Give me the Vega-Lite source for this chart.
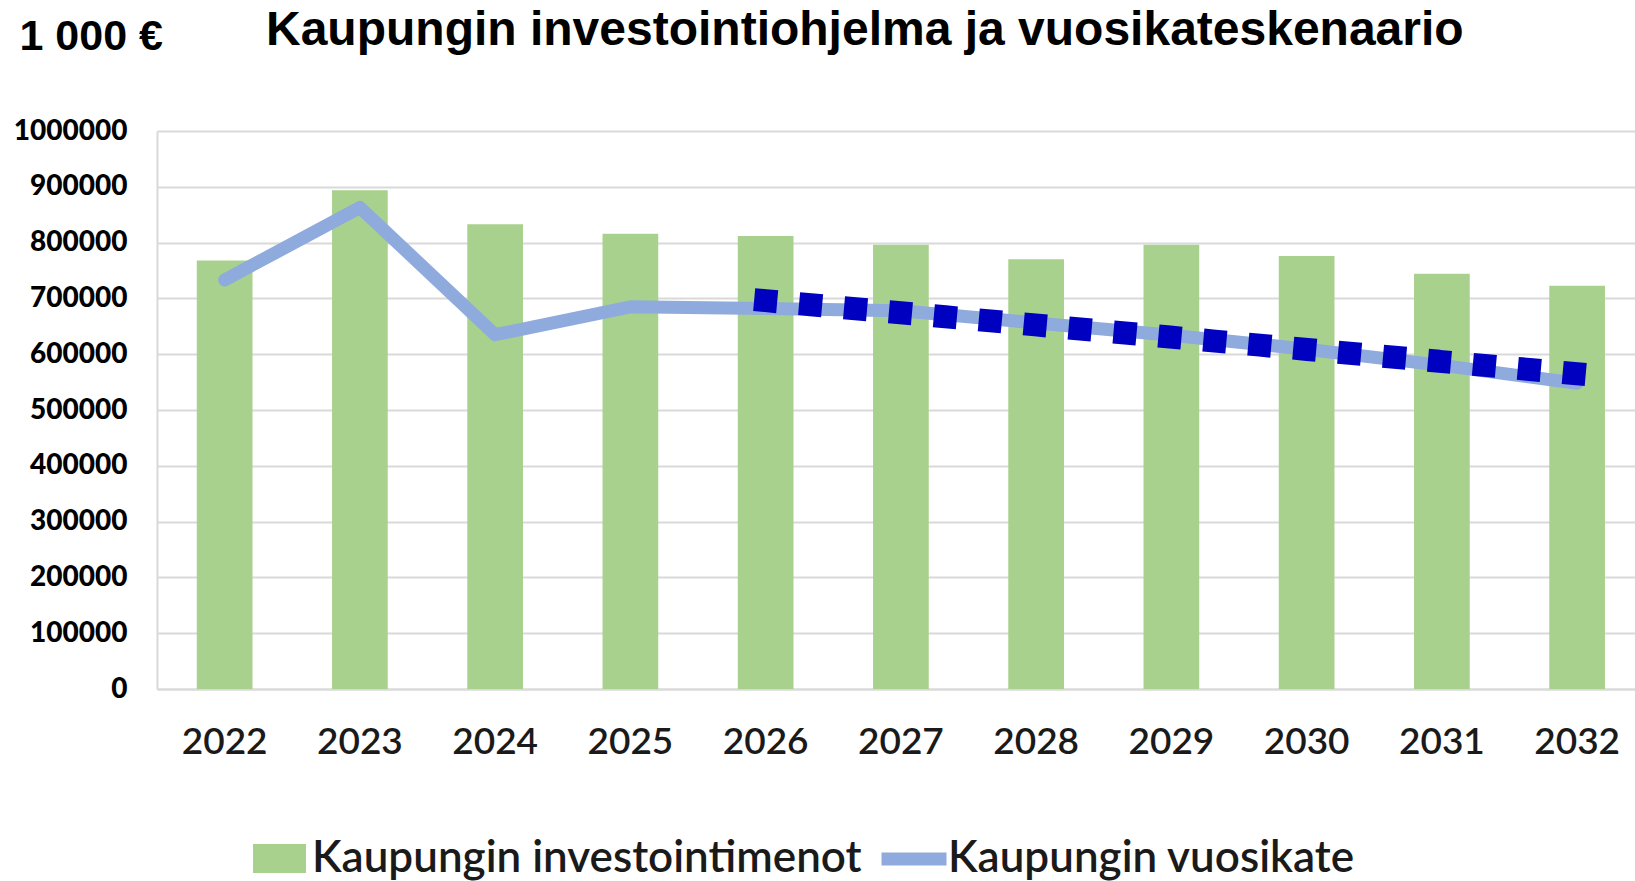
{
  "$schema": "https://vega.github.io/schema/vega-lite/v6.json",
  "width": 1478,
  "height": 558,
  "autosize": "none",
  "padding": {"left": 157, "top": 131, "right": 0, "bottom": 192},
  "background": "white",
  "title": {
    "text": "Kaupungin investointiohjelma ja vuosikateskenaario",
    "anchor": "start",
    "frame": "group",
    "dx": 109,
    "dy": 50,
    "font": "Liberation Sans",
    "fontSize": 48,
    "fontWeight": "bold",
    "color": "#000000",
    "offset": 10
  },
  "config": {"view": {"stroke": null}},
  "data": {
    "values": [
      {"year": "2022", "invest": 768000, "vuosikate": 733000, "trend": null},
      {"year": "2023", "invest": 894000, "vuosikate": 863000, "trend": null},
      {"year": "2024", "invest": 833000, "vuosikate": 635000, "trend": null},
      {"year": "2025", "invest": 816000, "vuosikate": 685000, "trend": null},
      {"year": "2026", "invest": 812000, "vuosikate": 682000, "trend": 696000},
      {"year": "2027", "invest": 796000, "vuosikate": 678000, "trend": null},
      {"year": "2028", "invest": 770000, "vuosikate": 656000, "trend": null},
      {"year": "2029", "invest": 796000, "vuosikate": 634000, "trend": null},
      {"year": "2030", "invest": 776000, "vuosikate": 609000, "trend": null},
      {"year": "2031", "invest": 744000, "vuosikate": 580000, "trend": null},
      {"year": "2032", "invest": 722500, "vuosikate": 548000, "trend": 565000}
    ]
  },
  "encoding": {
    "x": {
      "field": "year",
      "type": "ordinal",
      "scale": {"paddingInner": 0.588, "paddingOuter": 0.258, "align": 0.57},
      "axis": {
        "title": null,
        "labelFont": "Lato",
        "labelFontSize": 37,
        "labelFontWeight": 600,
        "labelColor": "#1a1a1a",
        "labelPadding": 35,
        "labelAngle": 0,
        "ticks": false,
        "grid": false,
        "domainColor": "#D9D9D9",
        "domainWidth": 2
      }
    }
  },
  "layer": [
    {
      "mark": {"type": "bar"},
      "encoding": {
        "y": {
          "field": "invest",
          "type": "quantitative",
          "title": "1 000 €",
          "scale": {"domain": [0, 1000000]},
          "axis": {
            "titleAngle": 0,
            "titleAlign": "left",
            "titleBaseline": "alphabetic",
            "titleX": -138,
            "titleY": -82,
            "titleFont": "Liberation Sans",
            "titleFontSize": 43,
            "titleFontWeight": "bold",
            "titleColor": "#000000",
            "labelFont": "Lato",
            "labelFontWeight": 900,
            "labelFontSize": 28,
            "labelColor": "#000000",
            "labelPadding": 30,
            "ticks": false,
            "values": [0, 100000, 200000, 300000, 400000, 500000, 600000, 700000, 800000, 900000, 1000000],
            "format": "d",
            "gridColor": "#D9D9D9",
            "gridWidth": 2,
            "domainColor": "#D9D9D9",
            "domainWidth": 2
          }
        },
        "color": {
          "datum": "Kaupungin investointimenot",
          "scale": {"range": ["#A9D18E"]},
          "legend": {
            "orient": "none",
            "legendX": 96,
            "legendY": 701,
            "title": null,
            "padding": 0,
            "symbolType": "M-1,-0.547H1V0.547H-1Z",
            "symbolSize": 2809,
            "symbolStrokeWidth": 0,
            "labelFont": "Lato",
            "labelFontSize": 44,
            "labelFontWeight": 600,
            "labelLimit": 0,
            "labelColor": "#1a1a1a",
            "labelOffset": 6
          }
        }
      }
    },
    {
      "mark": {"type": "line", "strokeWidth": 13, "strokeCap": "round", "strokeJoin": "round"},
      "encoding": {
        "y": {"field": "vuosikate", "type": "quantitative", "title": "1 000 €"},
        "stroke": {
          "datum": "Kaupungin vuosikate",
          "scale": {"range": ["#8FAADC"]},
          "legend": {
            "orient": "none",
            "legendX": 718,
            "legendY": 689,
            "title": null,
            "padding": 0,
            "symbolType": "stroke",
            "symbolSize": 4225,
            "symbolStrokeWidth": 13,
            "labelFont": "Lato",
            "labelFontSize": 44,
            "labelFontWeight": 600,
            "labelLimit": 0,
            "labelColor": "#1a1a1a",
            "labelOffset": -5
          }
        }
      }
    },
    {
      "transform": [{"filter": "datum.trend != null"}],
      "mark": {"type": "line", "strokeWidth": 23, "strokeCap": "square", "strokeDash": [0.1, 45], "color": "#0000C0"},
      "encoding": {
        "y": {"field": "trend", "type": "quantitative", "title": "1 000 €"}
      }
    }
  ]
}
